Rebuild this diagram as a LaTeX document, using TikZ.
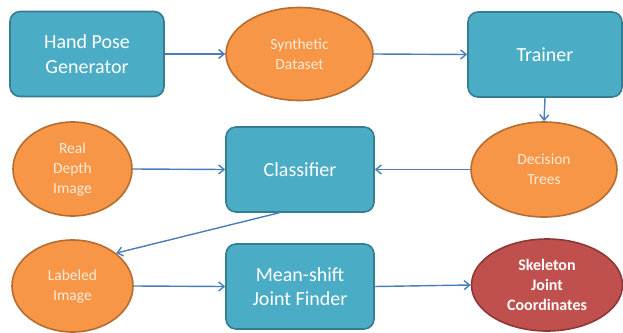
\documentclass[tikz,border=0pt]{standalone}
\usepackage{fontspec}
\setmainfont{Carlito}
\usetikzlibrary{shapes.geometric,arrows.meta,calc}
\definecolor{boxfill}{HTML}{4BACC6}
\definecolor{boxline}{HTML}{357D91}
\definecolor{orfill}{HTML}{F79646}
\definecolor{orline}{HTML}{B66D31}
\definecolor{redfill}{HTML}{C0504D}
\definecolor{redline}{HTML}{8C3836}
\definecolor{arr}{HTML}{4A7EBB}
\definecolor{ortext}{HTML}{FDEADA}
\tikzset{
  procbox/.style={rectangle, rounded corners=10pt, draw=boxline, fill=boxfill, line width=1.6pt,
    inner sep=0pt, text=white, align=center, font=\fontsize{20}{24.5}\selectfont},
  dataell/.style={ellipse, draw=orline, fill=orfill, line width=1.6pt, inner sep=0pt,
    text=ortext, align=center, font=\fontsize{15.5}{20}\selectfont},
  resell/.style={ellipse, draw=redline, fill=redfill, line width=1.6pt, inner sep=0pt,
    text=white, align=center, font=\bfseries\fontsize{16}{20}\selectfont},
  flow/.style={draw=arr, line width=1.4pt, -{Straight Barb[length=5.5pt,width=9pt,line width=1.4pt]}}
}
\begin{document}
\begin{tikzpicture}[x=1pt,y=-1pt]
\useasboundingbox (0,0) rectangle (623,332);
\node[procbox, minimum width=154pt, minimum height=85pt] (hpg) at (87,54) {Hand Pose\\Generator};
\node[dataell, minimum width=147pt, minimum height=93pt] (sd) at (299.5,54) {Synthetic\\Dataset};
\node[procbox, minimum width=154pt, minimum height=85pt] (tr) at (545,54.5) {Trainer};
\node[dataell, minimum width=146pt, minimum height=95pt] (dt) at (544,169.5) {Decision\\Trees};
\node[procbox, minimum width=148pt, minimum height=85pt] (cls) at (300,169.5) {Classifier};
\node[dataell, minimum width=119pt, minimum height=94pt] (rdi) at (72.5,169) {Real\\Depth\\Image};
\node[dataell, minimum width=121pt, minimum height=92pt] (li) at (72.5,286) {Labeled\\Image};
\node[procbox, minimum width=148pt, minimum height=85pt] (ms) at (300,286.5) {Mean-shift\\Joint Finder};
\node[resell, minimum width=151pt, minimum height=92pt] (sjc) at (547,285) {Skeleton\\Joint\\Coordinates};
\coordinate (clsout) at ($(cls.south west)!0.36!(cls.south east)$);
\draw[flow] (hpg.east) -- (sd.west);
\draw[flow] (sd.east) -- (tr.west);
\draw[flow] (tr.south) -- (dt.north);
\draw[flow] (dt.west) -- (cls.east);
\draw[flow] (rdi.east) -- (cls.west);
\draw[flow] (clsout) -- (li.37);
\draw[flow] (li.east) -- (ms.west);
\draw[flow] (ms.east) -- (sjc.west);
\end{tikzpicture}
\end{document}
